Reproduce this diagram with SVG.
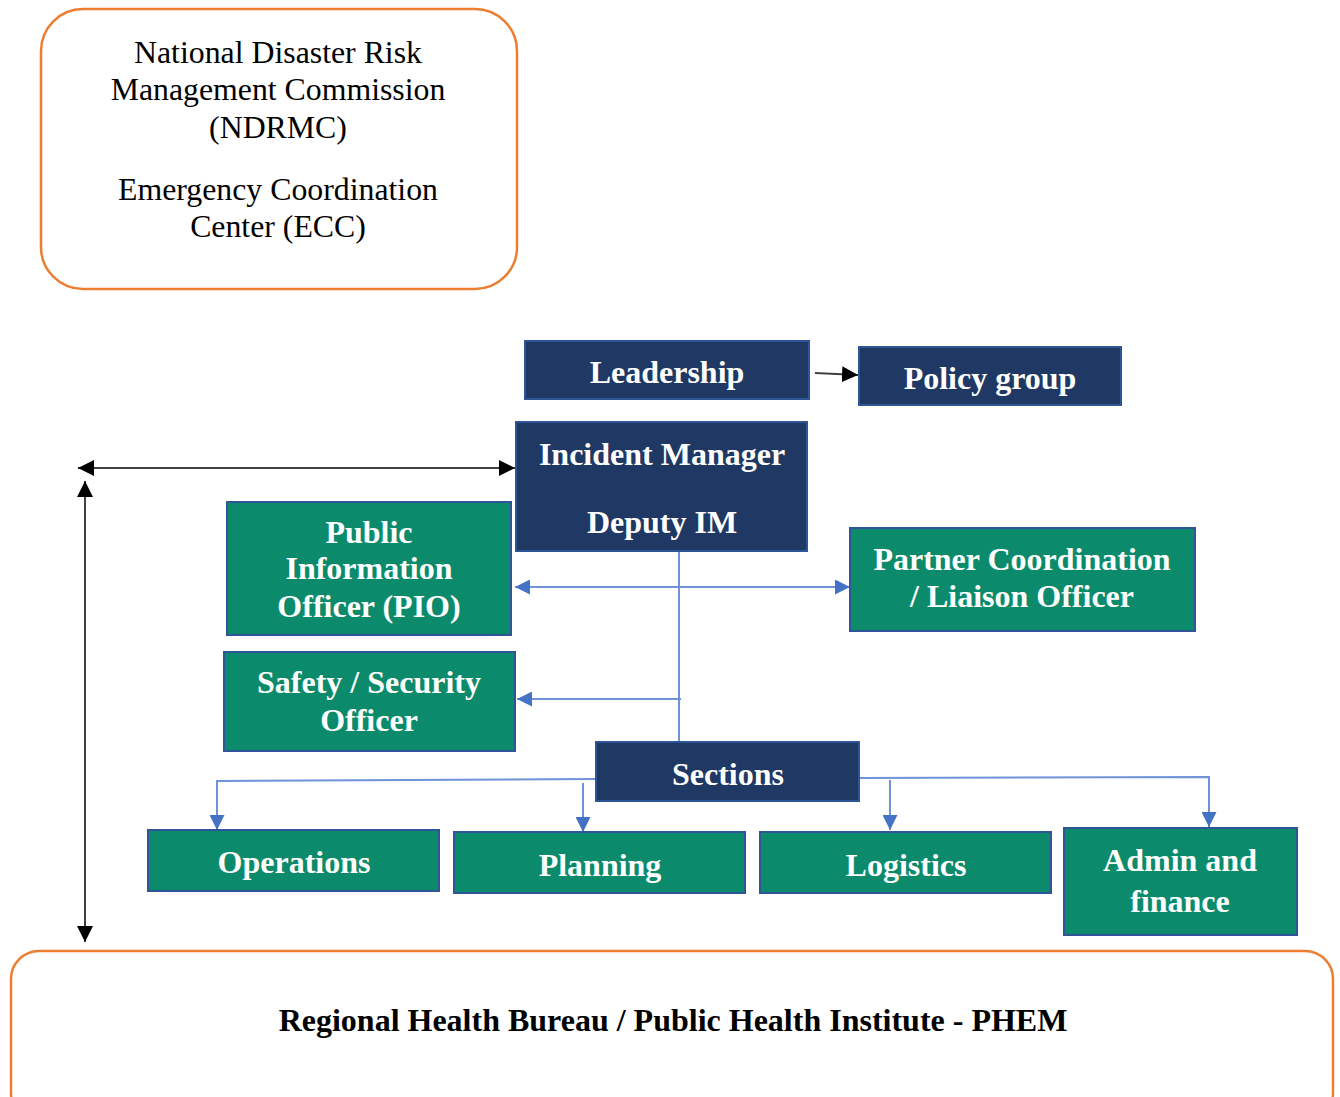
<svg xmlns="http://www.w3.org/2000/svg" width="1340" height="1097" viewBox="0 0 1340 1097">
  <defs>
    <style>
      .navy { fill: #203864; stroke: #2f5597; stroke-width: 2; }
      .green { fill: #0b8b6b; stroke: #2f5597; stroke-width: 2; }
      .org { fill: #ffffff; stroke: #ed7d31; stroke-width: 2.5; }
      .lbl { font-family: "Liberation Serif", "Times New Roman", serif; font-weight: bold; font-size: 32px; fill: #ffffff; text-anchor: middle; }
      .plain { font-family: "Liberation Serif", "Times New Roman", serif; font-size: 31.8px; fill: #000000; text-anchor: middle; }
      .bold { font-family: "Liberation Serif", "Times New Roman", serif; font-weight: bold; font-size: 32px; fill: #000000; text-anchor: middle; }
      .blk { fill: none; stroke: #404040; stroke-width: 2; }
      .blu { fill: none; stroke: #6f93d6; stroke-width: 2; }
    </style>
    <marker id="ahBlack" viewBox="0 0 10 10" refX="10" refY="5" markerWidth="16" markerHeight="16" markerUnits="userSpaceOnUse" orient="auto-start-reverse">
      <path d="M0,0 L10,5 L0,10 z" fill="#000000"/>
    </marker>
    <marker id="ahBlue" viewBox="0 0 10 10" refX="10" refY="5" markerWidth="15" markerHeight="15" markerUnits="userSpaceOnUse" orient="auto-start-reverse">
      <path d="M0,0 L10,5 L0,10 z" fill="#4472c4"/>
    </marker>
  </defs>

  <!-- national commission -->
  <g id="ndrmc">
    <rect class="org" x="41" y="9" width="476" height="280" rx="42" ry="42"/>
    <text class="plain" x="278" y="63">National Disaster Risk</text>
    <text class="plain" x="278" y="100">Management Commission</text>
    <text class="plain" x="278" y="138">(NDRMC)</text>
    <text class="plain" x="278" y="200">Emergency Coordination</text>
    <text class="plain" x="278" y="237">Center (ECC)</text>
  </g>

  <!-- regional bureau -->
  <g id="rhb">
    <rect class="org" x="11" y="951" width="1322" height="170" rx="28" ry="28"/>
    <text class="bold" x="673" y="1031">Regional Health Bureau / Public Health Institute - PHEM</text>
  </g>

  <!-- connectors -->
  <g id="connectors">
    <line class="blk" x1="815" y1="373" x2="858" y2="375" marker-end="url(#ahBlack)"/>
    <line class="blk" x1="78" y1="468" x2="515" y2="468" marker-start="url(#ahBlack)" marker-end="url(#ahBlack)"/>
    <line class="blk" x1="85" y1="481" x2="85" y2="942" marker-start="url(#ahBlack)" marker-end="url(#ahBlack)"/>

    <line class="blu" x1="679" y1="551" x2="679" y2="742"/>
    <line class="blu" x1="515" y1="587" x2="850" y2="587" marker-start="url(#ahBlue)" marker-end="url(#ahBlue)"/>
    <line class="blu" x1="681" y1="699" x2="517" y2="699" marker-end="url(#ahBlue)"/>

    <polyline class="blu" points="596,779 217,781 217,830" marker-end="url(#ahBlue)"/>
    <line class="blu" x1="583" y1="783" x2="583" y2="832" marker-end="url(#ahBlue)"/>
    <line class="blu" x1="890" y1="780" x2="890" y2="830" marker-end="url(#ahBlue)"/>
    <polyline class="blu" points="859,778 1209,777 1209,827" marker-end="url(#ahBlue)"/>
  </g>

  <g id="leadership">
    <rect class="navy" x="525" y="341" width="284" height="58"/>
    <text class="lbl" x="667" y="383">Leadership</text>
  </g>
  <g id="policy">
    <rect class="navy" x="859" y="347" width="262" height="58"/>
    <text class="lbl" x="990" y="389">Policy group</text>
  </g>
  <g id="incident-manager">
    <rect class="navy" x="516" y="422" width="291" height="129"/>
    <text class="lbl" x="662" y="465">Incident Manager</text>
    <text class="lbl" x="662" y="533">Deputy IM</text>
  </g>
  <g id="pio">
    <rect class="green" x="227" y="502" width="284" height="133"/>
    <text class="lbl" x="369" y="543">Public</text>
    <text class="lbl" x="369" y="579">Information</text>
    <text class="lbl" x="369" y="617">Officer (PIO)</text>
  </g>
  <g id="safety">
    <rect class="green" x="224" y="652" width="291" height="99"/>
    <text class="lbl" x="369" y="693">Safety / Security</text>
    <text class="lbl" x="369" y="731">Officer</text>
  </g>
  <g id="partner">
    <rect class="green" x="850" y="528" width="345" height="103"/>
    <text class="lbl" x="1022" y="570">Partner Coordination</text>
    <text class="lbl" x="1022" y="607">/ Liaison Officer</text>
  </g>
  <g id="sections">
    <rect class="navy" x="596" y="742" width="263" height="59"/>
    <text class="lbl" x="728" y="785">Sections</text>
  </g>
  <g id="operations">
    <rect class="green" x="148" y="830" width="291" height="61"/>
    <text class="lbl" x="294" y="873">Operations</text>
  </g>
  <g id="planning">
    <rect class="green" x="454" y="832" width="291" height="61"/>
    <text class="lbl" x="600" y="876">Planning</text>
  </g>
  <g id="logistics">
    <rect class="green" x="760" y="832" width="291" height="61"/>
    <text class="lbl" x="906" y="876">Logistics</text>
  </g>
  <g id="admin">
    <rect class="green" x="1064" y="828" width="233" height="107"/>
    <text class="lbl" x="1180" y="871">Admin and</text>
    <text class="lbl" x="1180" y="912">finance</text>
  </g>
</svg>
